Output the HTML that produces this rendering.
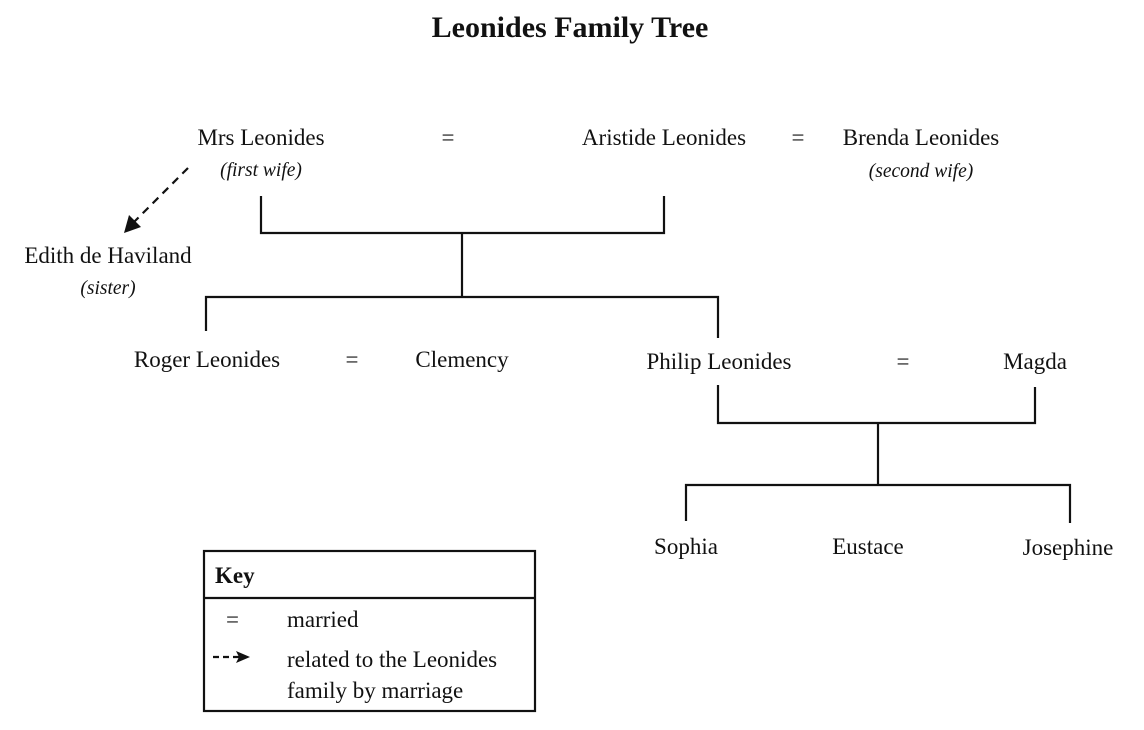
<!DOCTYPE html>
<html><head><meta charset="utf-8"><style>
html,body{margin:0;padding:0;background:#fff;}
svg{display:block;}
text{font-family:"Liberation Serif",serif;fill:#111;font-size:23px;}
.i{font-style:italic;font-size:19.5px;}
</style></head><body>
<svg width="1144" height="730" viewBox="0 0 1144 730">
<text x="570" y="37" text-anchor="middle" style="font-weight:bold;font-size:30px">Leonides Family Tree</text>
<g stroke="#111" stroke-width="2.2" fill="none">
<polyline points="261,196 261,233 664,233 664,196"/>
<line x1="462" y1="233" x2="462" y2="297"/>
<polyline points="206,331 206,297 718,297 718,338"/>
<polyline points="718,385 718,423 1035,423 1035,387"/>
<line x1="878" y1="423" x2="878" y2="485"/>
<polyline points="686,521 686,485 1070,485 1070,523"/>
<line x1="188" y1="168" x2="132" y2="224" stroke-dasharray="8,6"/>
<rect x="204" y="551" width="331" height="160"/>
<line x1="204" y1="598" x2="535" y2="598"/>
<line x1="213" y1="657" x2="240" y2="657" stroke-dasharray="6,4"/>
</g>
<polygon points="124,233 129,215 141,227" fill="#111"/>
<polygon points="250,657 236,651 239,657 236,663" fill="#111"/>
<g text-anchor="middle">
<text x="261" y="145">Mrs Leonides</text>
<text x="261" y="176" class="i">(first wife)</text>
<text x="448" y="145">=</text>
<text x="664" y="145">Aristide Leonides</text>
<text x="798" y="145">=</text>
<text x="921" y="145">Brenda Leonides</text>
<text x="921" y="177" class="i">(second wife)</text>
<text x="108" y="263">Edith de Haviland</text>
<text x="108" y="294" class="i">(sister)</text>
<text x="207" y="367">Roger Leonides</text>
<text x="352" y="367">=</text>
<text x="462" y="367">Clemency</text>
<text x="719" y="369">Philip Leonides</text>
<text x="903" y="369">=</text>
<text x="1035" y="369">Magda</text>
<text x="686" y="554">Sophia</text>
<text x="868" y="554">Eustace</text>
<text x="1068" y="555">Josephine</text>
</g>
<text x="215" y="583" style="font-weight:bold">Key</text>
<text x="226" y="627">=</text>
<text x="287" y="627">married</text>
<text x="287" y="667">related to the Leonides</text>
<text x="287" y="698">family by marriage</text>
</svg>
</body></html>
